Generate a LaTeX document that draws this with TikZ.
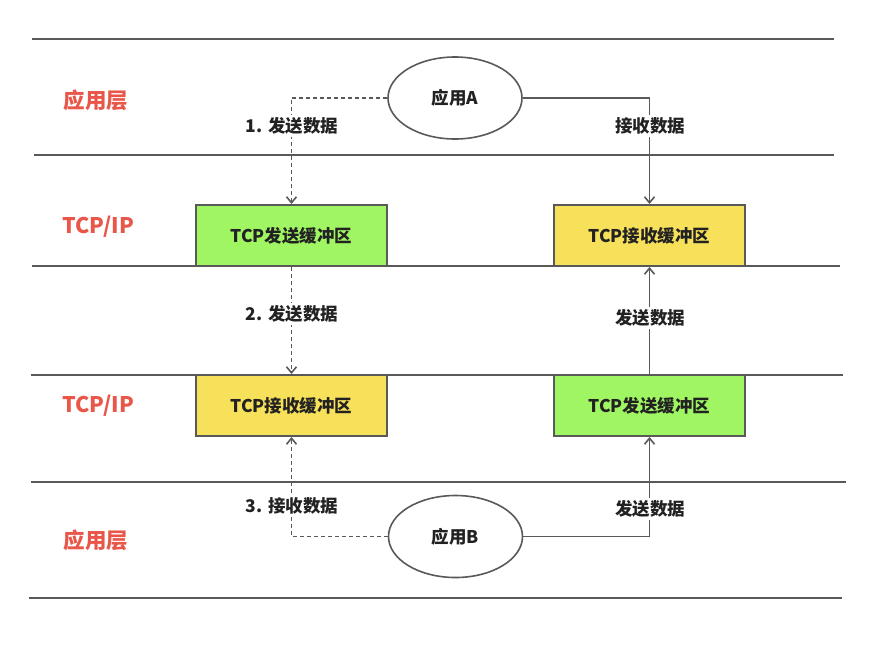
\documentclass[tikz,border=0pt]{standalone}
\usepackage{fontspec}
\setmainfont{Noto Sans CJK SC}
\usetikzlibrary{arrows.meta,shapes.geometric}
\definecolor{linegray}{HTML}{595959}
\definecolor{textdark}{HTML}{222222}
\definecolor{layerred}{HTML}{E8574A}
\definecolor{sendgreen}{HTML}{A0F562}
\definecolor{recvyellow}{HTML}{F7E05A}
\tikzset{
  layerline/.style={draw=linegray, line width=2pt},
  layerlabel/.style={text=layerred, font=\fontsize{21.5}{24}\selectfont\bfseries},
  appnode/.style={ellipse, draw=linegray, line width=1.6pt, fill=white,
    minimum width=134pt, minimum height=82pt, inner sep=0pt,
    text=textdark, font=\fontsize{17.5}{20}\selectfont\bfseries},
  bufbox/.style={rectangle, draw=linegray, line width=2pt,
    minimum width=191pt, minimum height=61pt, inner sep=0pt,
    text=textdark, font=\fontsize{17.5}{20}\selectfont\bfseries},
  sendbuf/.style={bufbox, fill=sendgreen},
  recvbuf/.style={bufbox, fill=recvyellow},
  flowlabel/.style={fill=white, inner sep=3pt, text=textdark,
    font=\fontsize{17.5}{20}\selectfont\bfseries},
  solidflow/.style={draw=linegray, line width=1.6pt,
    -{Straight Barb[length=6pt,width=10pt]}},
  dashflow/.style={solidflow, dash pattern=on 4pt off 3pt},
}
\begin{document}
\begin{tikzpicture}[x=1pt, y=-1pt]
  \useasboundingbox (0,0) rectangle (885,656);

  % layer separators
  \coordinate (l1a) at (32,39);  \coordinate (l1b) at (834,39);
  \coordinate (l2a) at (34,155); \coordinate (l2b) at (834,155);
  \coordinate (l3a) at (32,266); \coordinate (l3b) at (840,266);
  \coordinate (l4a) at (31,375); \coordinate (l4b) at (843,375);
  \coordinate (l5a) at (31,482); \coordinate (l5b) at (846,482);
  \coordinate (l6a) at (29,598); \coordinate (l6b) at (842,598);
  \foreach \n in {1,...,6} \draw[layerline] (l\n a) -- (l\n b);

  % layer names
  \node[layerlabel] (nameA) at (96,100) {应用层};
  \node[layerlabel] (nameT1) at (98,227) {TCP/IP};
  \node[layerlabel] (nameT2) at (98,406) {TCP/IP};
  \node[layerlabel] (nameB) at (96,540) {应用层};

  % applications
  \node[appnode] (appA) at (455,98) {应用A};
  \node[appnode] (appB) at (455.5,536.5) {应用B};

  % TCP buffers
  \node[sendbuf] (sendL) at (291.5,235.5) {TCP发送缓冲区};
  \node[recvbuf] (recvR) at (649.5,235.5) {TCP接收缓冲区};
  \node[recvbuf] (recvL) at (291.5,405.5) {TCP接收缓冲区};
  \node[sendbuf] (sendR) at (649.5,405.5) {TCP发送缓冲区};

  % data flow
  \draw[dashflow] (appA.west) -| (sendL.north);
  \draw[dashflow] (sendL.south) -- (recvL.north);
  \draw[dashflow] (appB.west) -| (recvL.south);
  \draw[solidflow] (appA.east) -| (recvR.north);
  \draw[solidflow] (sendR.north) -- (recvR.south);
  \draw[solidflow] (appB.east) -| (sendR.south);

  % flow labels
  \node[flowlabel] (f1) at (292,126) {1. 发送数据};
  \node[flowlabel] (f2) at (292,314) {2. 发送数据};
  \node[flowlabel] (f3) at (292,506) {3. 接收数据};
  \node[flowlabel] (f4) at (650,126) {接收数据};
  \node[flowlabel] (f5) at (650,318) {发送数据};
  \node[flowlabel] (f6) at (650,509) {发送数据};
\end{tikzpicture}
\end{document}
